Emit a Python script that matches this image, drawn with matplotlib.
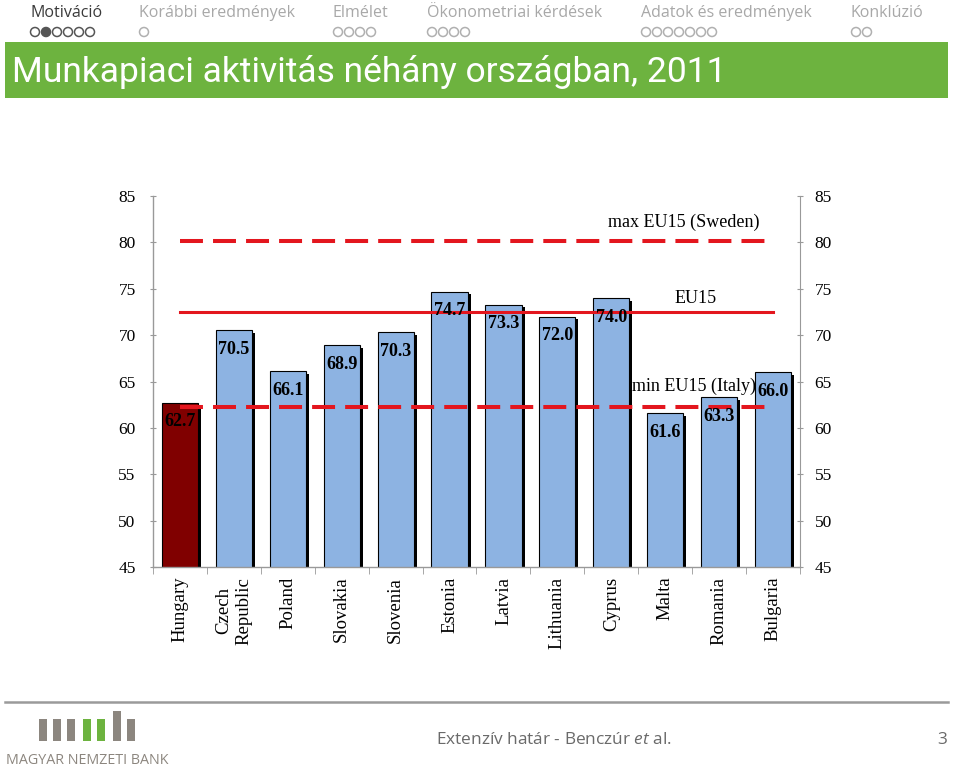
import matplotlib
matplotlib.use("Agg")
import matplotlib.pyplot as plt
import matplotlib.patheffects as pe
from matplotlib.patches import Rectangle, Ellipse

# data
countries = ["Hungary", "Czech\nRepublic", "Poland", "Slovakia", "Slovenia", "Estonia",
             "Latvia", "Lithuania", "Cyprus", "Malta", "Romania", "Bulgaria"]
activity = [62.7, 70.5, 66.1, 68.9, 70.3, 74.7, 73.3, 72.0, 74.0, 61.6, 63.3, 66.0]
eu15_max = 80.2   # Sweden
eu15_avg = 72.5
eu15_min = 62.2   # Italy
yticks = [45, 50, 55, 60, 65, 70, 75, 80, 85]

nav_items = ["Motiváció", "Korábbi eredmények", "Elmélet", "Ökonometriai kérdések",
             "Adatok és eredmények", "Konklúzió"]
nav_dots = [6, 1, 4, 4, 7, 2]
nav_x = [30, 139, 333, 427, 641, 851]

W, H = 960, 772
fig = plt.figure(figsize=(9.6, 7.72), dpi=100)
fig.patch.set_facecolor("white")

SERIF = "Liberation Serif"
SANS = "Open Sans"

# header navigation
for i, (name, n, x) in enumerate(zip(nav_items, nav_dots, nav_x)):
    col = "#3a3a3a" if i == 0 else "#a8a8a8"
    fig.text(x / W, 1 - 13 / H, name, fontsize=11.5, family=SANS, color=col,
             ha="left", va="center")
    for k in range(n):
        filled = (i == 0 and k == 1)
        dc = "#555555" if i == 0 else "#b0b0b0"
        fig.patches.append(Ellipse(
            ((x + 5 + k * 11) / W, 1 - 32 / H), 9 / W, 9 / H, transform=fig.transFigure,
            facecolor=dc if filled else "white", edgecolor=dc, lw=1.1))

# title bar
fig.patches.append(Rectangle((5 / W, 1 - 98 / H), 943 / W, 56 / H, transform=fig.transFigure,
                             facecolor="#6db33f", edgecolor="none"))
fig.text(12 / W, 1 - 72 / H, "Munkapiaci aktivitás néhány országban, 2011",
         fontsize=25.5, family="Roboto", color="white", ha="left", va="center")

# chart
ax = fig.add_axes([153 / W, 1 - 567 / H, 647 / W, 371 / H])
x = list(range(len(countries)))
colors = ["#800000"] + ["#8db3e2"] * (len(countries) - 1)
bars = ax.bar(x, activity, width=0.67, color=colors, edgecolor="black", linewidth=0.8, zorder=2)
for b in bars:
    b.set_path_effects([pe.SimplePatchShadow(offset=(2.2, -1.8), shadow_rgbFace="black", alpha=1),
                        pe.Normal()])

red = "#e3161e"
ax.plot([0, 10.85], [eu15_max, eu15_max], color=red, lw=2.9, ls=(0, (5.7, 2.5)), zorder=3)
ax.plot([0, 10.85], [eu15_min, eu15_min], color=red, lw=2.9, ls=(0, (5.7, 2.5)), zorder=3)
ax.plot([0, 11.0], [eu15_avg, eu15_avg], color=red, lw=2.2, zorder=3)

for xi, v in zip(x, activity):
    ax.text(xi, v - 2.05, f"{v:.1f}", ha="center", va="center", fontsize=13,
            family=SERIF, fontweight="bold", color="black", zorder=4)

ax.text(9.35, eu15_max + 2.0, "max EU15 (Sweden)", ha="center", va="center",
        fontsize=13, family=SERIF, zorder=4)
ax.text(9.57, eu15_avg + 1.5, "EU15", ha="center", va="center",
        fontsize=13, family=SERIF, zorder=4)
ax.text(9.54, eu15_min + 2.3, "min EU15 (Italy)", ha="center", va="center",
        fontsize=13, family=SERIF, zorder=4)

ax.set_xlim(-0.5, len(countries) - 0.5)
ax.set_ylim(45, 85)
ax.set_yticks(yticks)
ax.set_yticklabels([str(t) for t in yticks], family=SERIF, fontsize=12.5)
ax.set_xticks(x)
ax.set_xticklabels(countries, rotation=90, family=SERIF, fontsize=13.5, va="top", ha="center")
for lab in ax.get_xticklabels():
    lab.set_multialignment("center")
ax.set_xticks([i - 0.5 for i in range(len(countries) + 1)], minor=True)
ax.tick_params(axis="x", which="major", length=0, pad=7)
ax.tick_params(axis="x", which="minor", length=5, color="#999999", direction="out")
ax.tick_params(axis="y", length=5, color="#999999", direction="inout", pad=10)
for s in ["top", "right"]:
    ax.spines[s].set_visible(False)
for s in ["left", "bottom"]:
    ax.spines[s].set_color("#999999")
    ax.spines[s].set_linewidth(1.0)

ax2 = ax.twinx()
ax2.set_ylim(45, 85)
ax2.set_yticks(yticks)
ax2.set_yticklabels([str(t) for t in yticks], family=SERIF, fontsize=12.5)
ax2.tick_params(axis="y", length=5, color="#999999", direction="inout", pad=8)
for s in ["top", "left", "bottom"]:
    ax2.spines[s].set_visible(False)
ax2.spines["right"].set_color("#999999")

# footer
fig.add_artist(plt.Line2D([5 / W, 948 / W], [1 - 702 / H, 1 - 702 / H],
                          transform=fig.transFigure, color="#9a9a9a", lw=1.8))
logo_bars = [(39, 719), (53, 719), (67, 719), (83, 719), (97, 719), (113, 711), (127, 719)]
for k, (bx, top) in enumerate(logo_bars):
    fc = "#6db33f" if k in (3, 4) else "#8c867f"
    fig.patches.append(Rectangle((bx / W, 1 - 741 / H), 8 / W, (741 - top) / H,
                                 transform=fig.transFigure, facecolor=fc, edgecolor="none"))
fig.text(87 / W, 1 - 760 / H, "MAGYAR NEMZETI BANK", fontsize=10.3, family=SANS,
         color="#8c867f", ha="center", va="center")

plt.rcParams["mathtext.fontset"] = "custom"
plt.rcParams["mathtext.it"] = "Open Sans:italic"
plt.rcParams["mathtext.rm"] = "Open Sans"
fig.text(436 / W, 1 - 740 / H, r"Extenzív határ - Benczúr $\mathit{et}$ al.", fontsize=12.4,
         family=SANS, color="#6a6a6a", ha="left", va="center")
fig.text(947 / W, 1 - 740 / H, "3", fontsize=12.4, family=SANS, color="#6a6a6a",
         ha="right", va="center")

fig.savefig("out.png", dpi=100)
